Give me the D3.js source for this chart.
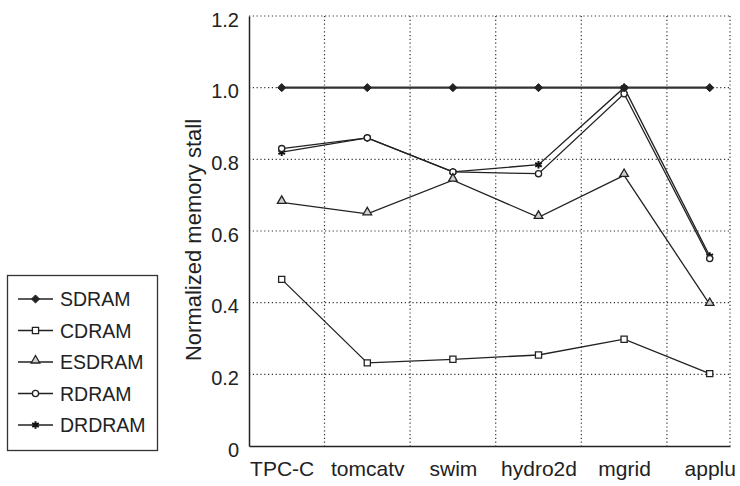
<!DOCTYPE html>
<html>
<head>
<meta charset="utf-8">
<script src="https://cdn.jsdelivr.net/npm/d3@7"></script>
<style>
  body { margin: 0; background: #fff; }
  text { font-family: "Liberation Sans", Arial, sans-serif; fill: #222; }
</style>
</head>
<body>
<div id="chart"></div>
<script>
// data
var benchmarks = ['TPC-C', 'tomcatv', 'swim', 'hydro2d', 'mgrid', 'applu'];
var sdram  = [1.0, 1.0, 1.0, 1.0, 1.0, 1.0];
var cdram  = [0.465, 0.232, 0.242, 0.254, 0.298, 0.202];
var esdram = [0.68, 0.648, 0.742, 0.638, 0.755, 0.395];
var rdram  = [0.83, 0.86, 0.765, 0.76, 0.983, 0.523];
var drdram = [0.82, 0.86, 0.765, 0.785, 1.0, 0.53];
var yTicks = [0, 0.2, 0.4, 0.6, 0.8, 1.0, 1.2];
var yTickLabels = ['0', '0.2', '0.4', '0.6', '0.8', '1.0', '1.2'];

var series = [
  {name: 'SDRAM', values: sdram, marker: 'diamond'},
  {name: 'CDRAM', values: cdram, marker: 'square'},
  {name: 'ESDRAM', values: esdram, marker: 'triangle'},
  {name: 'RDRAM', values: rdram, marker: 'circle'},
  {name: 'DRDRAM', values: drdram, marker: 'asterisk'}
];

var W = 740, H = 486;
var plot = {left: 249, right: 730, top: 16, bottom: 446};

var svg = d3.select('#chart').append('svg')
    .attr('width', W)
    .attr('height', H);

// index scale, categories are not centred in the frame
var x = d3.scaleLinear()
    .domain([-0.382, 5.237])
    .range([plot.left, plot.right]);

var y = d3.scaleLinear()
    .domain([0, 1.2])
    .range([plot.bottom, plot.top]);

// dotted grid
var grid = svg.append('g')
    .attr('stroke', '#333')
    .attr('stroke-width', 1.2)
    .attr('stroke-dasharray', '1.2,2.6');

grid.selectAll('.hg')
    .data(yTicks.slice(1))
    .enter().append('line')
    .attr('x1', plot.left).attr('x2', plot.right)
    .attr('y1', d => y(d)).attr('y2', d => y(d));

grid.selectAll('.vg')
    .data(d3.range(benchmarks.length - 1).map(i => i + 0.5).concat([x.domain()[1]]))
    .enter().append('line')
    .attr('x1', d => x(d)).attr('x2', d => x(d))
    .attr('y1', plot.top).attr('y2', plot.bottom);

// axes
var yAxis = d3.axisLeft(y)
    .tickValues(yTicks)
    .tickFormat((d, i) => yTickLabels[i])
    .tickSize(0)
    .tickPadding(10);

var gy = svg.append('g')
    .attr('transform', 'translate(' + plot.left + ',0)')
    .call(yAxis);
gy.select('.domain').attr('stroke', '#222').attr('stroke-width', 1.5);
gy.selectAll('text')
    .attr('font-size', 20)
    .attr('dy', '0.5em')
    .style('font-family', '"Liberation Sans", Arial, sans-serif')
    .attr('fill', '#222');

var xAxis = d3.axisBottom(x)
    .tickValues(d3.range(benchmarks.length))
    .tickFormat(i => benchmarks[i])
    .tickSize(0)
    .tickPadding(15);

var gx = svg.append('g')
    .attr('transform', 'translate(0,' + plot.bottom + ')')
    .call(xAxis);
gx.select('.domain').attr('stroke', '#222').attr('stroke-width', 1.5);
gx.selectAll('text')
    .attr('font-size', 21)
    .style('font-family', '"Liberation Sans", Arial, sans-serif')
    .attr('fill', '#222');

svg.append('text')
    .attr('transform', 'translate(201,240) rotate(-90)')
    .attr('text-anchor', 'middle')
    .attr('font-size', 22)
    .text('Normalized memory stall');

// markers
var symbols = {
  diamond: d3.symbol().type(d3.symbolDiamond2).size(42),
  square: d3.symbol().type(d3.symbolSquare).size(38),
  triangle: d3.symbol().type(d3.symbolTriangle).size(32),
  circle: d3.symbol().type(d3.symbolCircle).size(30),
  asterisk: d3.symbol().type(d3.symbolAsterisk).size(40)
};

function drawMarker(g, type) {
  var p = g.append('path').attr('d', symbols[type]());
  if (type == 'diamond') {
    p.attr('fill', '#222').attr('stroke', '#222').attr('stroke-width', 1);
  } else if (type == 'triangle') {
    p.attr('fill', '#d0d0d0').attr('stroke', '#222').attr('stroke-width', 1.3)
      .attr('transform', 'translate(0,-1.5)');
  } else if (type == 'asterisk') {
    p.attr('fill', 'none').attr('stroke', '#111').attr('stroke-width', 2);
  } else {
    p.attr('fill', '#fff').attr('stroke', '#222').attr('stroke-width', 1.3);
  }
}

var line = d3.line()
    .x((d, i) => x(i))
    .y(d => y(d));

// draw from last to first so SDRAM sits on top
series.slice().reverse().forEach(function(s) {
  svg.append('path')
      .datum(s.values)
      .attr('fill', 'none')
      .attr('stroke', s.marker == 'diamond' ? '#333' : '#222')
      .attr('stroke-width', s.marker == 'diamond' ? 2.2 : 1.3)
      .attr('d', line);

  s.values.forEach(function(v, i) {
    var g = svg.append('g')
        .attr('transform', 'translate(' + x(i) + ',' + y(v) + ')');
    drawMarker(g, s.marker);
  });
});

// legend
var legend = svg.append('g');
legend.append('rect')
    .attr('x', 7.5).attr('y', 275.5)
    .attr('width', 150).attr('height', 175)
    .attr('fill', '#fff')
    .attr('stroke', '#333')
    .attr('stroke-width', 1.3);

series.forEach(function(s, i) {
  var ly = 299 + i * 31.5;
  legend.append('line')
      .attr('x1', 18).attr('x2', 53)
      .attr('y1', ly).attr('y2', ly)
      .attr('stroke', '#222')
      .attr('stroke-width', 1.3);
  var g = legend.append('g').attr('transform', 'translate(35.5,' + ly + ')');
  drawMarker(g, s.marker);
  legend.append('text')
      .attr('x', 60)
      .attr('y', ly + 7)
      .attr('font-size', 19.5)
      .text(s.name);
});
</script>
</body>
</html>
